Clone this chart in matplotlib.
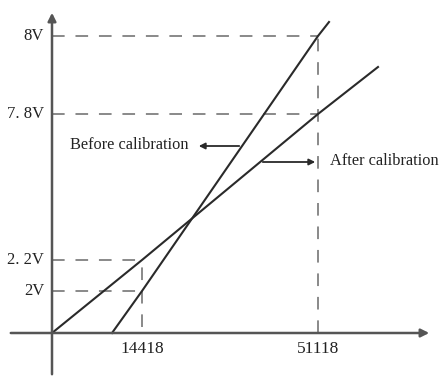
import numpy as np
import matplotlib.pyplot as plt

# schematic data (axis units are schematic, not linear in the labels)
x_labels = ['14418', '51118']
x_pos = [90, 266]
y_labels = ['2V', '2. 2V', '7. 8V', '8V']
y_pos = [42, 73, 219, 297]

# before calibration: crosses the x axis, then 2V at 14418 and 8V at 51118
before_x = [60, 90, 266, 277]
before_y = [0, 42, 297, 311]
# after calibration: from origin, 2.2V at 14418 and 7.8V at 51118
after_x = [0, 90, 266, 326]
after_y = [0, 73, 219, 266]

fig = plt.figure(figsize=(4.4, 3.77), dpi=100)
ax = fig.add_axes([0, 0, 1, 1])
ax.set_xlim(-52, 388)
ax.set_ylim(-44, 333)
ax.axis('off')

axis_col = '#555555'
line_col = '#2a2a2a'
dash_col = '#808080'

# axes with arrows
ax.annotate('', xy=(380, 0), xytext=(-44, 0),
            arrowprops=dict(arrowstyle='-|>', color=axis_col, lw=1.8, mutation_scale=12))
ax.annotate('', xy=(0, 323), xytext=(0, -44),
            arrowprops=dict(arrowstyle='-|>', color=axis_col, lw=1.8, mutation_scale=12))

# dashed guides
dash = dict(color=dash_col, lw=1.3, dashes=(7, 6))
ax.plot([0, x_pos[0]], [y_pos[0], y_pos[0]], **dash)
ax.plot([0, x_pos[0]], [y_pos[1], y_pos[1]], **dash)
ax.plot([0, x_pos[1]], [y_pos[2], y_pos[2]], **dash)
ax.plot([0, x_pos[1]], [y_pos[3], y_pos[3]], **dash)
ax.plot([x_pos[0], x_pos[0]], [6, y_pos[1]], **dash)
ax.plot([x_pos[1], x_pos[1]], [0, y_pos[3]], **dash)

# calibration lines
ax.plot(before_x, before_y, color=line_col, lw=1.5)
ax.plot(after_x, after_y, color=line_col, lw=1.5)

font = 'Liberation Serif'
for lab, yp in zip(y_labels, y_pos):
    ax.text(-8, yp, lab, ha='right', va='center', fontsize=12, family=font, color='#222222')
for lab, xp in zip(x_labels, x_pos):
    ax.text(xp, -8, lab, ha='center', va='top', fontsize=12.5, family=font, color='#222222')

# annotations
ax.annotate('', xy=(144, 187), xytext=(190, 187),
            arrowprops=dict(arrowstyle='-|>', color=line_col, lw=1.3, mutation_scale=9))
ax.text(136, 188, 'Before calibration', ha='right', va='center', fontsize=11.8,
        family=font, color='#222222')
ax.annotate('', xy=(266, 171), xytext=(208, 171),
            arrowprops=dict(arrowstyle='-|>', color=line_col, lw=1.3, mutation_scale=9))
ax.text(278, 172, 'After calibration', ha='left', va='center', fontsize=11.8,
        family=font, color='#222222')

fig.savefig('out.png', dpi=100)
